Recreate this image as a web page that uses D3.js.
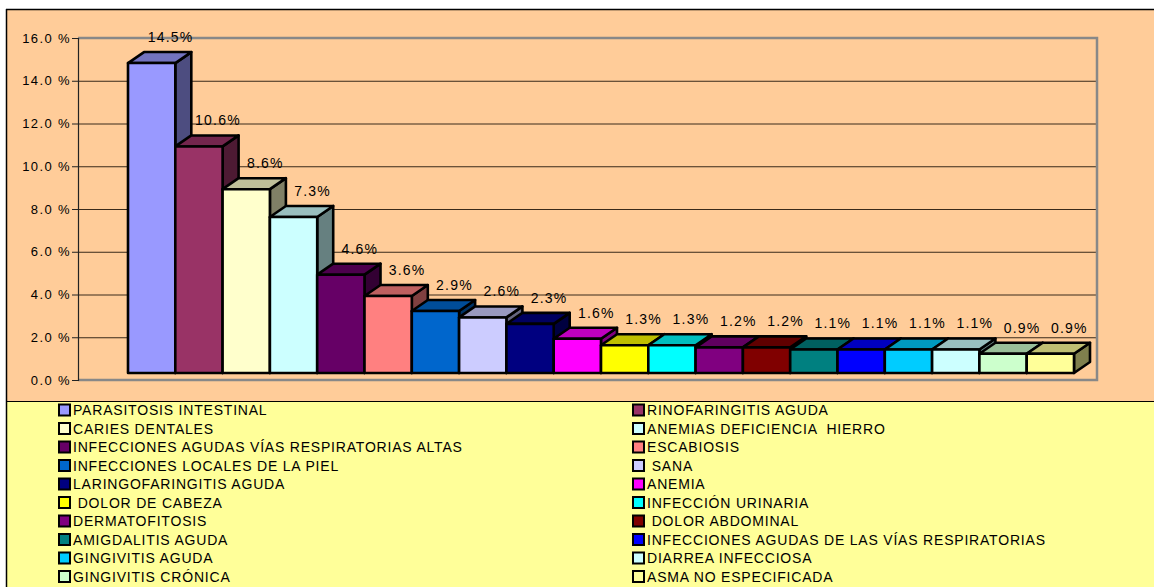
<!DOCTYPE html>
<html>
<head>
<meta charset="utf-8">
<script src="https://cdn.jsdelivr.net/npm/d3@7"></script>
<style>
  body { margin: 0; background: #fff; }
  svg { display: block; font-family: "Liberation Sans", Arial, sans-serif; }
</style>
</head>
<body>
<script>
// data
var categories = [
  "PARASITOSIS INTESTINAL", "RINOFARINGITIS AGUDA", "CARIES DENTALES",
  "ANEMIAS DEFICIENCIA  HIERRO", "INFECCIONES AGUDAS VÍAS RESPIRATORIAS ALTAS",
  "ESCABIOSIS", "INFECCIONES LOCALES DE LA PIEL", " SANA",
  "LARINGOFARINGITIS AGUDA", "ANEMIA", " DOLOR DE CABEZA", "INFECCIÓN URINARIA",
  "DERMATOFITOSIS", " DOLOR ABDOMINAL", "AMIGDALITIS AGUDA",
  "INFECCIONES AGUDAS DE LAS VÍAS RESPIRATORIAS", "GINGIVITIS AGUDA",
  "DIARREA INFECCIOSA", "GINGIVITIS CRÓNICA", "ASMA NO ESPECIFICADA"
];
var values = [14.5, 10.6, 8.6, 7.3, 4.6, 3.6, 2.9, 2.6, 2.3, 1.6,
              1.3, 1.3, 1.2, 1.2, 1.1, 1.1, 1.1, 1.1, 0.9, 0.9];
var colors = [
  "#9999FF", "#993366", "#FFFFCC", "#CCFFFF", "#660066",
  "#FF8080", "#0066CC", "#CCCCFF", "#000080", "#FF00FF",
  "#FFFF00", "#00FFFF", "#800080", "#800000", "#008080",
  "#0000FF", "#00CCFF", "#CCFFFF", "#CCFFCC", "#FFFF99"
];
var yTicks = [0, 2, 4, 6, 8, 10, 12, 14, 16];

var W = 1154, H = 587;
var wall = {left: 78, right: 1097, top: 38, bottom: 380};
var depth = {dx: 16, dy: -11};
var frontShift = -7;

var svg = d3.select("body").append("svg")
    .attr("width", W)
    .attr("height", H);

// backgrounds
svg.append("rect").attr("x", 6).attr("y", 9).attr("width", W - 6).attr("height", 392)
    .attr("fill", "#FFCC99");
svg.append("rect").attr("x", 6).attr("y", 401).attr("width", W - 6).attr("height", H - 401)
    .attr("fill", "#FFFF99");
svg.append("line").attr("x1", 6).attr("x2", W).attr("y1", 9.5).attr("y2", 9.5)
    .attr("stroke", "#000").attr("stroke-width", 1.5);
svg.append("line").attr("x1", 6.5).attr("x2", 6.5).attr("y1", 9).attr("y2", H)
    .attr("stroke", "#000").attr("stroke-width", 1.5);
svg.append("line").attr("x1", 6).attr("x2", W).attr("y1", 401.5).attr("y2", 401.5)
    .attr("stroke", "#000").attr("stroke-width", 1.2);

// scales
var x = d3.scaleBand().domain(categories).range([128, 1074]).padding(0);
var y = d3.scaleLinear().domain([0, 16]).range([wall.bottom, wall.top]);

// gridlines
svg.append("g")
    .attr("transform", "translate(" + wall.left + ",0)")
    .call(d3.axisLeft(y).tickValues(yTicks.slice(1, -1)).tickSize(-(wall.right - wall.left)).tickFormat(""))
    .call(function(g) {
        g.select(".domain").remove();
        g.selectAll("line").attr("stroke", "#3a2a1a").attr("stroke-width", 1);
    });

// wall border (top, right, bottom in grey)
svg.append("path")
    .attr("d", "M" + wall.left + "," + wall.top + "H" + wall.right + "V" + wall.bottom + "H" + wall.left)
    .attr("fill", "none").attr("stroke", "#888").attr("stroke-width", 2.5);

// y axis
svg.append("g")
    .attr("transform", "translate(" + wall.left + ",0)")
    .call(d3.axisLeft(y).tickValues(yTicks).tickSize(6).tickPadding(1)
        .tickFormat(function(d) { return d.toFixed(1) + " %"; }))
    .call(function(g) {
        g.select(".domain").attr("stroke", "#222").attr("stroke-width", 1.2);
        g.selectAll("line").attr("stroke", "#222");
        g.selectAll("text").attr("font-size", 13).attr("fill", "#000")
            .attr("font-family", "Liberation Sans, Arial, sans-serif")
            .style("letter-spacing", "1.4px");
    });

// bars
var bars = svg.append("g").selectAll("g").data(values).enter().append("g");

bars.each(function(v, i) {
    var g = d3.select(this);
    var x0 = x(categories[i]), x1 = x0 + x.bandwidth();
    var yt = y(v) + frontShift, yb = y(0) + frontShift;
    var c = d3.color(colors[i]);
    var top = d3.rgb(c.r * 0.75, c.g * 0.75, c.b * 0.75);
    var side = d3.rgb(c.r * 0.5, c.g * 0.5, c.b * 0.5);
    g.append("path")
        .attr("d", "M" + x1 + "," + yt + "L" + (x1 + depth.dx) + "," + (yt + depth.dy) +
            "L" + (x1 + depth.dx) + "," + (yb + depth.dy) + "L" + x1 + "," + yb + "Z")
        .attr("fill", side);
    g.append("path")
        .attr("d", "M" + x0 + "," + yt + "L" + (x0 + depth.dx) + "," + (yt + depth.dy) +
            "L" + (x1 + depth.dx) + "," + (yt + depth.dy) + "L" + x1 + "," + yt + "Z")
        .attr("fill", top);
    g.append("rect")
        .attr("x", x0).attr("y", yt)
        .attr("width", x.bandwidth()).attr("height", yb - yt)
        .attr("fill", colors[i]);
    g.selectAll("path, rect")
        .attr("stroke", "#000").attr("stroke-width", 2.6).attr("stroke-linejoin", "round");
});

// data labels
svg.append("g").selectAll("text").data(values).enter().append("text")
    .attr("x", function(d, i) { return x(categories[i]) + x.bandwidth() / 2 + 19; })
    .attr("y", function(d) { return y(d) + frontShift - 21; })
    .attr("text-anchor", "middle")
    .attr("font-size", 14)
    .style("letter-spacing", "1.2px")
    .text(function(d) { return d.toFixed(1) + "%"; });

// legend
var legend = svg.append("g").selectAll("g").data(categories).enter().append("g")
    .attr("transform", function(d, i) {
        var col = i % 2, row = Math.floor(i / 2);
        return "translate(" + (col ? 633 : 59) + "," + (410 + row * 18.5) + ")";
    });
legend.append("rect")
    .attr("x", 0).attr("y", -5.5).attr("width", 11).attr("height", 11)
    .attr("fill", function(d, i) { return colors[i]; })
    .attr("stroke", "#000").attr("stroke-width", 2);
legend.append("text")
    .attr("x", 14).attr("dy", "0.36em")
    .attr("font-size", 14)
    .style("letter-spacing", "0.8px")
    .style("white-space", "pre")
    .text(function(d) { return d; });
</script>
</body>
</html>
